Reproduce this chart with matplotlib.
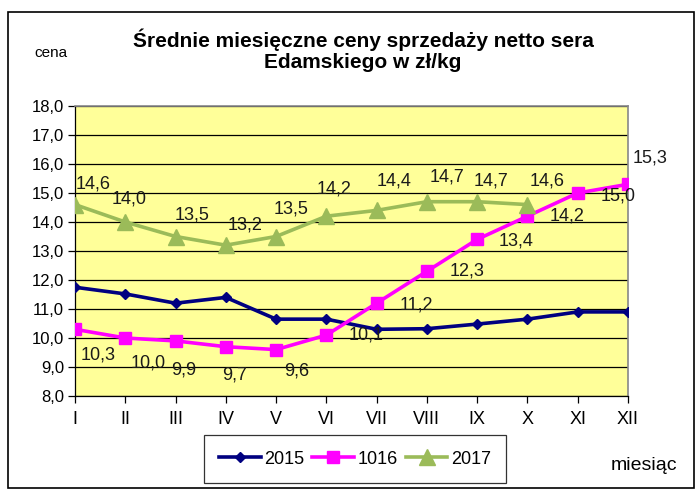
import numpy as np
import matplotlib.pyplot as plt
from matplotlib.patches import Rectangle

plt.rcParams['font.family'] = ['Liberation Sans', 'DejaVu Sans']

# dane
miesiace = ['I', 'II', 'III', 'IV', 'V', 'VI', 'VII', 'VIII', 'IX', 'X', 'XI', 'XII']
ceny_2015 = [11.75, 11.52, 11.2, 11.4, 10.65, 10.65, 10.3, 10.32, 10.48, 10.65, 10.9, 10.9]
ceny_1016 = [10.3, 10.0, 9.9, 9.7, 9.6, 10.1, 11.2, 12.3, 13.4, 14.2, 15.0, 15.3]
ceny_2017 = [14.6, 14.0, 13.5, 13.2, 13.5, 14.2, 14.4, 14.7, 14.7, 14.6]

# przesuniecia etykiet (w pikselach)
off_1016 = [(23, -26), (23, -25), (8, -29), (9, -28), (21, -21), (40, 0),
            (40, -2), (40, 0), (39, -2), (40, 0), (40, -3), (22, 26)]
off_2017 = [(18, 21), (4, 23), (17, 22), (19, 20), (15, 28), (8, 27),
            (17, 29), (20, 25), (14, 21), (20, 24)]


def fmt(v):
    return f"{v:.1f}".replace('.', ',')


fig = plt.figure(figsize=(6.96, 4.9), dpi=100)
W, H = 696, 490
ax = fig.add_axes([75 / W, 1 - 396 / H, (628 - 75) / W, (396 - 106) / H])
ax.set_facecolor('#FFFF99')

x = np.arange(len(miesiace))
ax.plot(x, ceny_2015, color='#000080', lw=2.6, marker='D', ms=5.5, label='2015', zorder=3)
ax.plot(x, ceny_1016, color='#FF00FF', lw=2.6, marker='s', ms=9, label='1016', zorder=3)
ax.plot(x[:len(ceny_2017)], ceny_2017, color='#9BBB59', lw=2.6, marker='^', ms=12,
        label='2017', zorder=3)

# etykiety danych (offset w punktach: 1px = 0.72pt)
for i, v in enumerate(ceny_1016):
    dx, dy = off_1016[i]
    ax.annotate(fmt(v), (x[i], v), xytext=(dx * 0.72, dy * 0.72), textcoords='offset points',
                ha='center', va='center', fontsize=13, color='#1a1a1a', zorder=4,
                annotation_clip=False)
for i, v in enumerate(ceny_2017):
    dx, dy = off_2017[i]
    ax.annotate(fmt(v), (x[i], v), xytext=(dx * 0.72, dy * 0.72), textcoords='offset points',
                ha='center', va='center', fontsize=13, color='#1a1a1a', zorder=4,
                annotation_clip=False)

ax.set_xlim(0, 11)
ax.set_ylim(8, 18)
ax.set_yticks(np.arange(8, 18.1, 1))
ax.set_yticklabels([fmt(v) for v in np.arange(8, 18.1, 1)], fontsize=12)
ax.set_xticks(x)
ax.set_xticklabels(miesiace, fontsize=13)
ax.grid(axis='y', color='black', lw=0.9)
ax.set_axisbelow(True)
ax.tick_params(axis='y', length=5, width=0.9, pad=3)
ax.tick_params(axis='x', length=5, width=0.9, pad=6)
for s in ['top', 'right']:
    ax.spines[s].set_color('#888888')
    ax.spines[s].set_linewidth(1.2)
for s in ['left', 'bottom']:
    ax.spines[s].set_color('black')
    ax.spines[s].set_linewidth(0.9)

fig.text(363 / W, 1 - 40 / H, 'Średnie miesięczne ceny sprzedaży netto sera',
         ha='center', va='center', fontsize=15, fontweight='bold')
fig.text(363 / W, 1 - 63 / H, 'Edamskiego w zł/kg',
         ha='center', va='center', fontsize=15, fontweight='bold')
fig.text(51 / W, 1 - 53 / H, 'cena', ha='center', va='center', fontsize=11)
fig.text(644 / W, 1 - 465 / H, 'miesiąc', ha='center', va='center', fontsize=14)

leg = fig.legend(loc='center', bbox_to_anchor=(355 / W, 1 - 459 / H), ncol=3,
                 fontsize=13, frameon=True, fancybox=False, edgecolor='black',
                 handlelength=2.3, handletextpad=0.2, columnspacing=0.45,
                 borderpad=0.85)
leg.get_frame().set_linewidth(0.9)

fig.patches.append(Rectangle((8 / W, 2 / H), 686 / W, 476 / H, transform=fig.transFigure,
                             fill=False, edgecolor='black', lw=1.2))

fig.savefig('out.png', dpi=100)
